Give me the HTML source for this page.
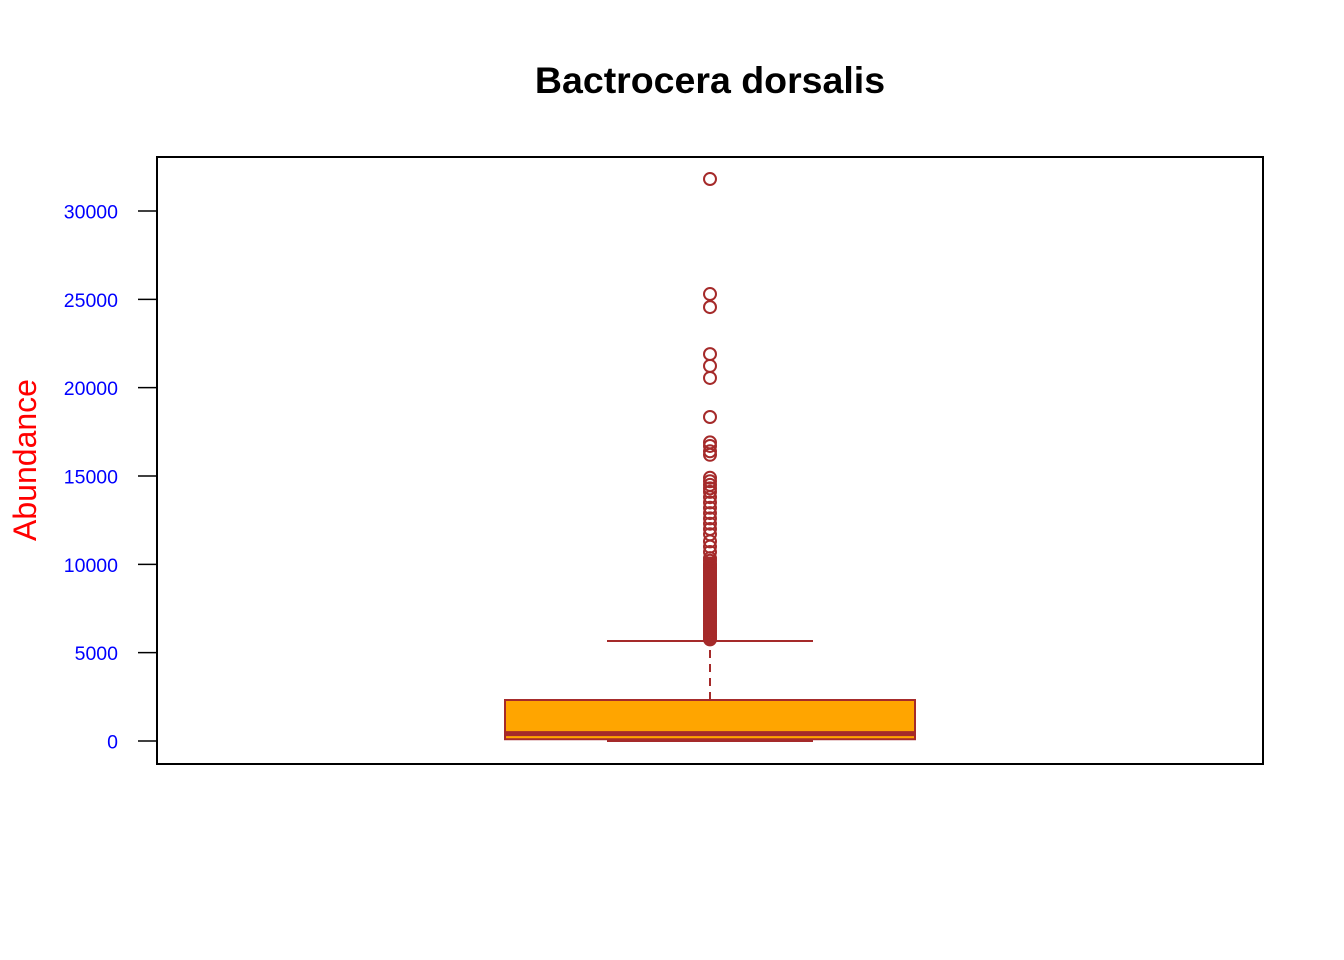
<!DOCTYPE html>
<html><head><meta charset="utf-8"><style>
html,body{margin:0;padding:0;background:#fff;}
svg{display:block;font-family:"Liberation Sans",Arial,sans-serif;}
</style></head><body>
<svg id="chart" width="1344" height="960" viewBox="0 0 1344 960" xmlns="http://www.w3.org/2000/svg">
<text x="710" y="93" text-anchor="middle" font-size="37.5" font-weight="bold">Bactrocera dorsalis</text>
<rect x="157" y="157" width="1106" height="607" fill="none" stroke="#000" stroke-width="2"/>
<text transform="translate(36,460) rotate(-90)" text-anchor="middle" font-size="32" fill="#ff0000">Abundance</text>
<g id="yaxis"></g>
<g id="box"></g>
<g id="outliers"></g>
</svg>
<script>
const yTicks = [0, 5000, 10000, 15000, 20000, 25000, 30000];
const yTickLabels = ["0", "5000", "10000", "15000", "20000", "25000", "30000"];
const lowerWhisker = 0;
const q1 = 100;
const median = 420;
const q3 = 2320;
const upperWhisker = 5660;
const outlierValues = [5750,5850,5950,6050,6150,6250,6350,6450,6550,6650,6750,6850,6950,7050,7150,7250,7350,7450,7550,7650,7750,7850,7950,8050,8150,8250,8350,8450,8550,8650,8750,8850,8950,9050,9150,9250,9350,9450,9550,9650,9750,9850,9950,10050,10200,10350,10700,11000,11300,11700,12000,12300,12600,12900,13200,13500,13800,14100,14300,14500,14700,14900,16200,16400,16700,16900,18340,20550,21230,21900,24560,25300,31810];

const NS = "http://www.w3.org/2000/svg";
function yScale(v){ return 741 - v * (530 / 30000); }
const cx = 710;
function mk(tag, attrs, parent){
  const e = document.createElementNS(NS, tag);
  for (const k in attrs) e.setAttribute(k, attrs[k]);
  parent.appendChild(e);
  return e;
}
const yaxis = document.getElementById('yaxis');
yTicks.forEach((t, i) => {
  const y = yScale(t);
  const ln = mk('line', {x1:138, x2:157, y1:y, y2:y, stroke:'#000', 'stroke-width':1.5}, yaxis);
  
  
  const tx = mk('text', {x:118, y:y+7.5, 'text-anchor':'end', 'font-size':19.5, fill:'#0000ff'}, yaxis);
  tx.textContent = yTickLabels[i];
  
  
});
const box = document.getElementById('box');
const col = '#a52a2a';
const wl = mk('line', {x1:cx, x2:cx, y1:yScale(q3), y2:yScale(upperWhisker), stroke:col, 'stroke-width':2, 'stroke-dasharray':'8,6'}, box);


const uc = mk('line', {x1:607, x2:813, y1:yScale(upperWhisker), y2:yScale(upperWhisker), stroke:col, 'stroke-width':2}, box);


const lc = mk('line', {x1:607, x2:813, y1:yScale(lowerWhisker), y2:yScale(lowerWhisker), stroke:col, 'stroke-width':2}, box);


const rb = mk('rect', {x:505, width:410, y:yScale(q3), height:yScale(q1)-yScale(q3), fill:'#ffa500', stroke:col, 'stroke-width':2}, box);


const md = mk('line', {x1:505, x2:915, y1:yScale(median), y2:yScale(median), stroke:col, 'stroke-width':5}, box);


const og = document.getElementById('outliers');
outlierValues.forEach(v => {
  const c = mk('circle', {cx:cx, cy:yScale(v), r:6, fill:'none', stroke:col, 'stroke-width':2}, og);
  
  
});
</script>
</body></html>
